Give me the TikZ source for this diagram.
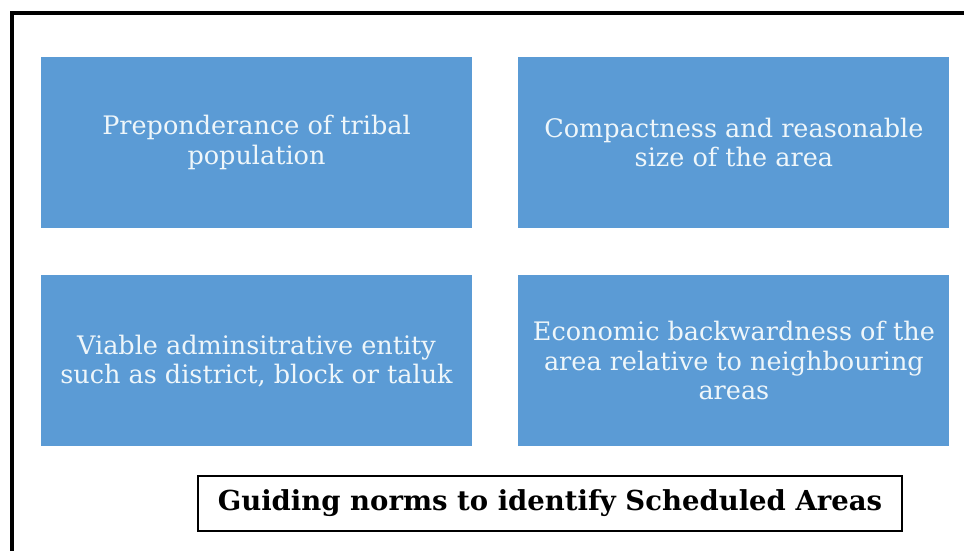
\documentclass[tikz,border=0pt]{standalone}
\usepackage{fontspec}
\setmainfont{DejaVu Serif}
\usetikzlibrary{positioning}
\definecolor{NormBlue}{RGB}{91,155,213}
\definecolor{NormText}{RGB}{238,246,250}
\tikzset{
  norm/box/.style={
    fill=NormBlue,
    draw=none,
    text=NormText,
    align=center,
    minimum width=431pt,
    minimum height=171pt,
    inner sep=0pt,
    font=\fontsize{25.5}{29.5}\selectfont
  },
  norm/title/.style={
    draw=black,
    line width=1.5pt,
    fill=white,
    minimum width=704pt,
    minimum height=55pt,
    font=\fontsize{27.5}{32}\selectfont\bfseries
  },
  norm/frame/.style={line width=4pt, draw=black}
}

\begin{document}
\begin{tikzpicture}[x=1pt,y=-1pt]
  \useasboundingbox (0,0) rectangle (964,551);
  \draw[norm/frame] (12,560) |- (970,13);
  \node[norm/box] (prep) at (256.5,142.5) {Preponderance of tribal\\population};
  \node[norm/box,right=46pt of prep] (comp) {Compactness and reasonable\\size of the area};
  \node[norm/box,below=47pt of prep] (admin) {Viable adminsitrative entity\\such as district, block or taluk};
  \node[norm/box,below=47pt of comp] (econ) {Economic backwardness of the\\area relative to neighbouring\\areas};
  \node[norm/title] (title) at (550,503.5) {Guiding norms to identify Scheduled Areas};
\end{tikzpicture}
\end{document}
